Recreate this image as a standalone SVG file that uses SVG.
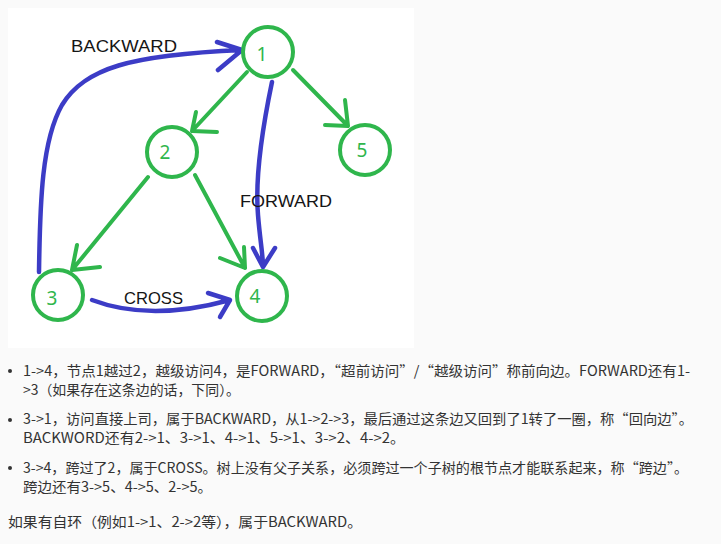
<svg xmlns="http://www.w3.org/2000/svg" width="721" height="544" viewBox="0 0 721 544">
<style>
.node circle{fill:none;stroke:#2fb64c;stroke-width:4}
.node text{fill:#2fb64c;font-family:"Noto Sans","DejaVu Sans",sans-serif;font-size:19px;text-anchor:middle}
.g{fill:none;stroke:#2fb64c;stroke-width:4;stroke-linecap:round;stroke-linejoin:round}
.b{fill:none;stroke:#3c3cc6;stroke-width:4.5;stroke-linecap:round;stroke-linejoin:round}
.lbl{fill:#151515;font-family:"Liberation Sans",Arial,sans-serif;font-size:17px}
.t{fill:#333;font-family:"Noto Sans CJK SC","Noto Sans",sans-serif;font-size:14px}
</style>
<rect x="0" y="0" width="721" height="544" fill="#fafafa"/>
<rect x="8" y="8" width="406" height="340" fill="#ffffff"/>
<g id="connectors">
  <path class="g" d="M247,72 L192,131 M196,112 L192,131 L217,132"/>
  <path class="g" d="M293,70 L348,126 M345,100 L348,126 L325,125"/>
  <path class="g" d="M148,177 L72,270 M77,245 L72,270 L100,267"/>
  <path class="g" d="M195,175 L245,268 M244,247 L245,268 L220,258"/>
  <path class="b" d="M272,82 C262,130 255,180 258,215 C260,240 263,255 263,267 M253,248 L263,267 L275,248"/>
  <path class="b" d="M39,272 C40,200 42,140 62,105 C85,68 130,55 242,50 M217,42 L242,50 L218,70"/>
  <path class="b" d="M92,300 Q150,322 230,300 M208,293 L230,300 L220,317"/>
  <text class="lbl" x="71" y="52" textLength="106" lengthAdjust="spacingAndGlyphs">BACKWARD</text>
  <text class="lbl" x="240" y="207" textLength="92" lengthAdjust="spacingAndGlyphs">FORWARD</text>
  <text class="lbl" x="124" y="304" textLength="59" lengthAdjust="spacingAndGlyphs">CROSS</text>
</g>
<g id="node1" class="node"><circle cx="268" cy="52" r="25"/><text x="262" y="61">1</text></g>
<g id="node2" class="node"><circle cx="172" cy="152" r="25"/><text x="165" y="159">2</text></g>
<g id="node5" class="node"><circle cx="365" cy="150" r="25"/><text x="362" y="157">5</text></g>
<g id="node3" class="node"><circle cx="58" cy="295" r="25"/><text x="52" y="305">3</text></g>
<g id="node4" class="node"><circle cx="262" cy="296" r="25"/><text x="255" y="303">4</text></g>
<g id="notes">
  <circle cx="10" cy="371" r="2" fill="#333"/>
  <circle cx="10" cy="420" r="2" fill="#333"/>
  <circle cx="10" cy="468" r="2" fill="#333"/>
  <text class="t" x="23" y="376" textLength="667" lengthAdjust="spacingAndGlyphs">1-&gt;4，节点1越过2，越级访问4，是FORWARD，“超前访问”/“越级访问”称前向边。FORWARD还有1-</text>
  <text class="t" x="23" y="395" textLength="217" lengthAdjust="spacingAndGlyphs">&gt;3（如果存在这条边的话，下同）。</text>
  <text class="t" x="23" y="424" textLength="670" lengthAdjust="spacingAndGlyphs">3-&gt;1，访问直接上司，属于BACKWARD，从1-&gt;2-&gt;3，最后通过这条边又回到了1转了一圈，称“回向边”。</text>
  <text class="t" x="23" y="443" textLength="382" lengthAdjust="spacingAndGlyphs">BACKWORD还有2-&gt;1、3-&gt;1、4-&gt;1、5-&gt;1、3-&gt;2、4-&gt;2。</text>
  <text class="t" x="23" y="473" textLength="665" lengthAdjust="spacingAndGlyphs">3-&gt;4，跨过了2，属于CROSS。树上没有父子关系，必须跨过一个子树的根节点才能联系起来，称“跨边”。</text>
  <text class="t" x="23" y="492" textLength="189" lengthAdjust="spacingAndGlyphs">跨边还有3-&gt;5、4-&gt;5、2-&gt;5。</text>
  <text class="t" x="8" y="527" textLength="354" lengthAdjust="spacingAndGlyphs">如果有自环（例如1-&gt;1、2-&gt;2等），属于BACKWARD。</text>
</g>
</svg>
